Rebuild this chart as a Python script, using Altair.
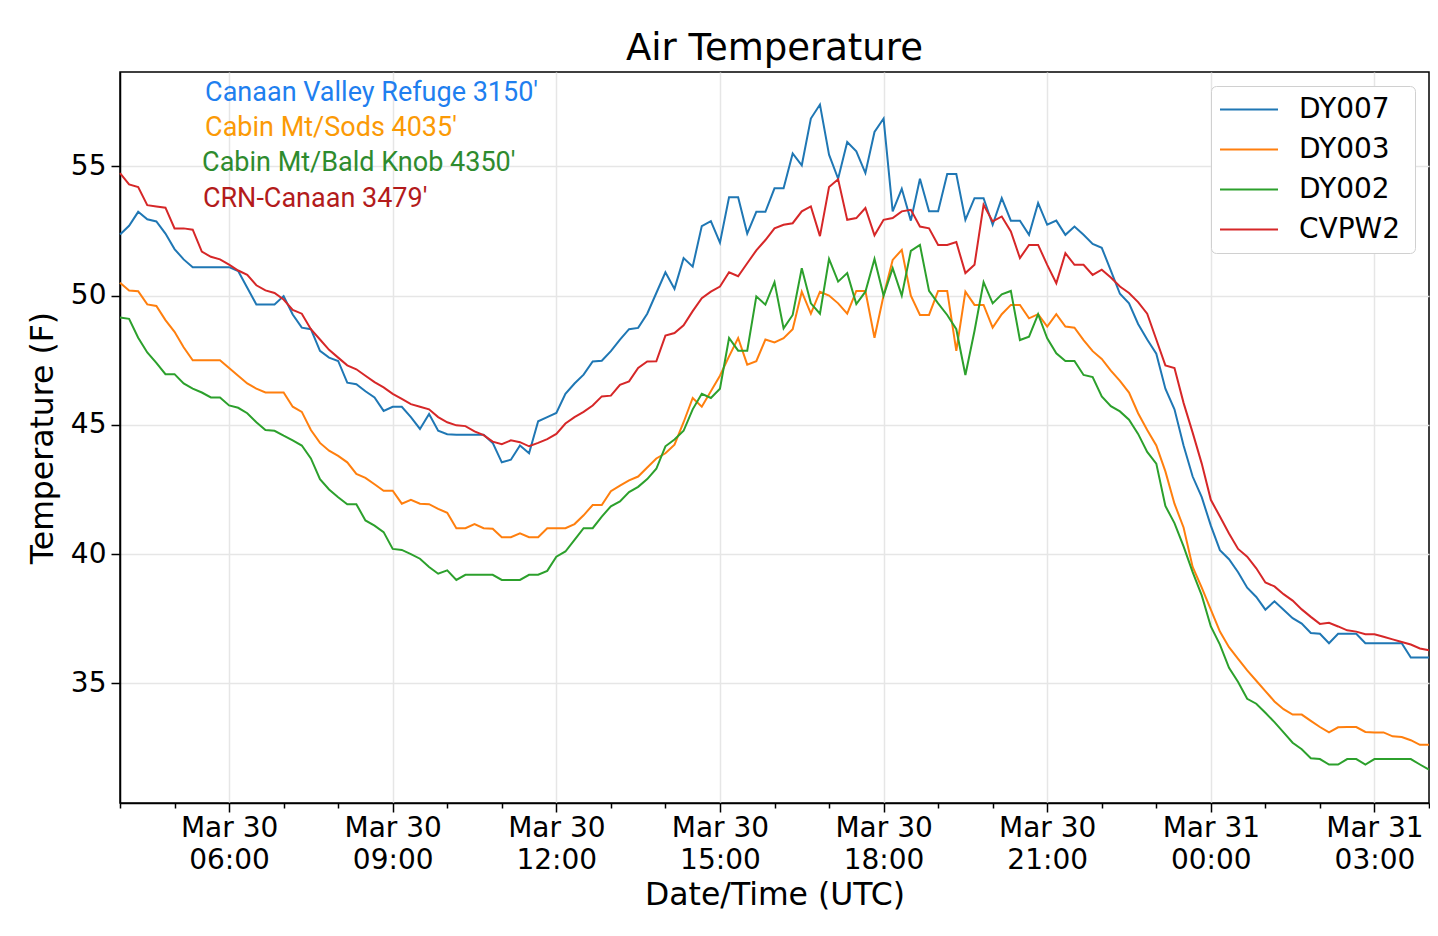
import altair as alt
import pandas as pd

# ---------------- data (10-minute readings, Mar 30 04:00 UTC -> Mar 31 04:00 UTC) ----------------
stations = ["DY007", "DY003", "DY002", "CVPW2"]
line_colors = ["#1f77b4", "#ff7f0e", "#2ca02c", "#d62728"]

dy007 = [52.36, 52.7, 53.24, 52.95, 52.87, 52.4, 51.8, 51.4, 51.1, 51.1,
         51.1, 51.1, 51.1, 50.95, 50.3, 49.66, 49.66, 49.66, 49.98, 49.27,
         48.76, 48.7, 47.86, 47.6, 47.47, 46.63, 46.57, 46.3, 46.06, 45.54,
         45.7, 45.7, 45.3, 44.84, 45.42, 44.77, 44.64, 44.62, 44.62, 44.62,
         44.62, 44.3, 43.55, 43.65, 44.2, 43.9, 45.14, 45.3, 45.46, 46.2,
         46.6, 46.94, 47.45, 47.48, 47.85, 48.3, 48.7, 48.75, 49.3, 50.1,
         50.9, 50.26, 51.45, 51.12, 52.69, 52.88, 52.05, 53.8, 53.8, 52.4,
         53.24, 53.24, 54.15, 54.15, 55.5, 55.04, 56.85, 57.39, 55.45, 54.52,
         55.94, 55.58, 54.74, 56.33, 56.85, 53.26, 54.13, 52.9, 54.52, 53.26,
         53.26, 54.7, 54.7, 52.93, 53.77, 53.77, 52.74, 53.77, 52.9, 52.9,
         52.35, 53.58, 52.74, 52.9, 52.35, 52.67, 52.35, 52.0, 51.85, 50.97,
         50.07, 49.7, 48.9, 48.3, 47.75, 46.4, 45.6, 44.2, 43.0, 42.2,
         41.1, 40.15, 39.8, 39.3, 38.7, 38.34, 37.85, 38.17, 37.85, 37.52,
         37.31, 36.95, 36.92, 36.55, 36.92, 36.92, 36.92, 36.55, 36.55, 36.55,
         36.55, 36.55, 36.0, 36.0, 36.0]

dy003 = [50.5, 50.2, 50.17, 49.66, 49.6, 49.05, 48.6, 48.0, 47.5, 47.5,
         47.5, 47.5, 47.2, 46.9, 46.6, 46.4, 46.25, 46.25, 46.25, 45.7,
         45.5, 44.8, 44.3, 44.0, 43.8, 43.55, 43.1, 42.95, 42.7, 42.45,
         42.45, 41.95, 42.1, 41.95, 41.93, 41.75, 41.6, 41.0, 41.0, 41.16,
         41.0, 40.98, 40.65, 40.65, 40.8, 40.65, 40.65, 41.0, 41.0, 41.0,
         41.16, 41.5, 41.9, 41.9, 42.43, 42.65, 42.85, 43.0, 43.35, 43.7,
         43.9, 44.23, 45.1, 46.04, 45.7, 46.3, 46.9, 47.65, 48.36, 47.33,
         47.46, 48.3, 48.19, 48.35, 48.7, 50.15, 49.3, 50.15, 50.0, 49.7,
         49.3, 50.18, 50.18, 48.37, 50.0, 51.38, 51.77, 50.0, 49.25, 49.25,
         50.18, 50.18, 47.86, 50.15, 49.64, 49.64, 48.76, 49.28, 49.64, 49.64,
         49.12, 49.28, 48.8, 49.28, 48.8, 48.76, 48.28, 47.85, 47.55, 47.1,
         46.7, 46.25, 45.45, 44.8, 44.2, 43.2, 41.95, 41.03, 39.5, 38.7,
         37.85, 37.0, 36.4, 35.95, 35.5, 35.1, 34.7, 34.3, 34.0, 33.79,
         33.79, 33.55, 33.31, 33.1, 33.3, 33.31, 33.31, 33.12, 33.1, 33.1,
         32.95, 32.92, 32.8, 32.62, 32.62]

dy002 = [49.15, 49.1, 48.37, 47.8, 47.4, 46.96, 46.96, 46.6, 46.4, 46.25,
         46.06, 46.06, 45.75, 45.66, 45.45, 45.1, 44.8, 44.77, 44.58, 44.4,
         44.2, 43.7, 42.9, 42.5, 42.2, 41.93, 41.93, 41.3, 41.1, 40.85,
         40.2, 40.16, 40.0, 39.82, 39.5, 39.24, 39.37, 39.0, 39.2, 39.2,
         39.2, 39.2, 39.0, 39.0, 39.0, 39.2, 39.2, 39.35, 39.9, 40.1,
         40.55, 41.0, 41.0, 41.45, 41.85, 42.04, 42.4, 42.6, 42.9, 43.3,
         44.17, 44.43, 44.77, 45.6, 46.2, 46.04, 46.4, 48.36, 47.87, 47.87,
         49.97, 49.65, 50.52, 48.73, 49.25, 51.06, 49.7, 49.3, 51.42, 50.54,
         50.87, 49.67, 50.15, 51.42, 50.0, 51.06, 50.0, 51.73, 51.96, 50.18,
         49.7, 49.25, 48.7, 46.93, 48.63, 50.52, 49.7, 50.05, 50.18, 48.28,
         48.41, 49.28, 48.35, 47.77, 47.47, 47.47, 46.93, 46.85, 46.1, 45.72,
         45.52, 45.2, 44.65, 43.95, 43.5, 41.86, 41.2, 40.3, 39.3, 38.4,
         37.2, 36.5, 35.6, 35.05, 34.4, 34.21, 33.86, 33.5, 33.1, 32.7,
         32.45, 32.1, 32.07, 31.86, 31.86, 32.07, 32.07, 31.86, 32.07, 32.07,
         32.07, 32.07, 32.07, 31.86, 31.66]

cvpw2 = [54.74, 54.3, 54.2, 53.5, 53.45, 53.4, 52.6, 52.6, 52.55, 51.7,
         51.5, 51.4, 51.2, 50.97, 50.8, 50.4, 50.2, 50.1, 49.85, 49.45,
         49.3, 48.7, 48.3, 47.9, 47.6, 47.3, 47.15, 46.9, 46.65, 46.45,
         46.2, 46.0, 45.8, 45.7, 45.6, 45.3, 45.1, 44.98, 44.95, 44.75,
         44.6, 44.35, 44.25, 44.4, 44.33, 44.17, 44.3, 44.45, 44.65, 45.05,
         45.3, 45.5, 45.75, 46.1, 46.13, 46.55, 46.68, 47.2, 47.45, 47.46,
         48.45, 48.55, 48.85, 49.4, 49.9, 50.15, 50.35, 50.9, 50.75, 51.25,
         51.75, 52.15, 52.6, 52.74, 52.8, 53.26, 53.45, 52.3, 54.2, 54.5,
         52.93, 53.0, 53.39, 52.33, 52.93, 53.0, 53.26, 53.32, 52.67, 52.6,
         51.96, 51.96, 52.07, 50.87, 51.19, 53.51, 52.87, 53.06, 52.48, 51.45,
         51.96, 51.96, 51.19, 50.48, 51.64, 51.19, 51.19, 50.8, 51.0, 50.7,
         50.35, 50.1, 49.75, 49.3, 48.3, 47.3, 47.2, 45.85, 44.7, 43.5,
         42.1, 41.45, 40.8, 40.2, 39.9, 39.45, 38.9, 38.75, 38.45, 38.2,
         37.86, 37.57, 37.3, 37.34, 37.2, 37.05, 37.0, 36.9, 36.9, 36.8,
         36.7, 36.6, 36.5, 36.35, 36.28]

series = [dy007, dy003, dy002, cvpw2]

# annotation text
ann_labels = ["Canaan Valley Refuge 3150'", "Cabin Mt/Sods 4035'",
              "Cabin Mt/Bald Knob 4350'", "CRN-Canaan 3479'"]
ann_colors = ["#1f7fef", "#fb9a06", "#2e8b2e", "#b31b1b"]
ann_hours = [1.56, 1.56, 1.505, 1.52]       # hours after 04:00 UTC
ann_temps = [57.82, 56.5, 55.12, 53.73]

y_ticks = [35, 40, 45, 50, 55]

# ---------------- build table ----------------
start = pd.Timestamp("2019-03-30 04:00", tz="UTC")
end = pd.Timestamp("2019-03-31 04:00", tz="UTC")
times = pd.date_range(start, periods=145, freq="10min")
time_str = list(times.strftime("%Y-%m-%dT%H:%M:%SZ"))

rows = []
for name, vals in zip(stations, series):
    for t, v in zip(time_str, vals):
        rows.append({"time": t, "temp": v, "station": name})
df = pd.DataFrame(rows)

def ms(ts):
    return int(ts.value // 10**6)

hour_ticks = [ms(t) for t in pd.date_range(start, end, freq="1h")]
x_domain = [ms(start), ms(end)]

major = "utchours(datum.value) % 3 == 0"

x_axis = alt.Axis(
    values=hour_ticks,
    labelExpr=f"{major} ? [utcFormat(datum.value, '%b %d'), utcFormat(datum.value, '%H:%M')] : ''",
    labelOverlap=False,
    labelFlush=False,
    labelLineHeight=32,
    labelFontSize=28,
    labelPadding=2,
    labelBaseline="top",
    tickSize={"condition": {"test": major, "value": 9}, "value": 5},
    gridOpacity={"condition": {"test": major, "value": 1}, "value": 0},
    title="Date/Time (UTC)",
    titleFontSize=31.5,
    titlePadding=5,
)

y_axis = alt.Axis(
    values=y_ticks,
    title="Temperature (F)",
    titleFontSize=31.5,
    titlePadding=11,
    labelFontSize=28,
    labelPadding=5,
    tickSize=9,
)

lines = alt.Chart(df).mark_line(strokeWidth=2).encode(
    x=alt.X("time:T", scale=alt.Scale(type="utc", domain=x_domain), axis=x_axis),
    y=alt.Y("temp:Q", scale=alt.Scale(domain=[30.37, 58.65], nice=False, zero=False), axis=y_axis),
    color=alt.Color(
        "station:N",
        scale=alt.Scale(domain=stations, range=line_colors),
        sort=stations,
        legend=alt.Legend(
            title="\u00a0",
            titleOrient="right",
            titleFontSize=2,
            titlePadding=10,
            orient="top-right",
            offset=14,
            symbolType="stroke",
            symbolSize=3364,
            symbolStrokeWidth=2,
            symbolOpacity=1,
            symbolOffset=3,
            labelFontSize=28,
            labelFont="DejaVu Sans",
            labelColor="black",
            labelOffset=20,
            padding=5,
            rowPadding=3,
            clipHeight=37,
            strokeColor="#d0d0d0",
            fillColor="white",
            cornerRadius=5,
        ),
    ),
)

texts = []
for lab, col, hr, tp in zip(ann_labels, ann_colors, ann_hours, ann_temps):
    tdf = pd.DataFrame({
        "time": [(start + pd.Timedelta(hours=hr)).strftime("%Y-%m-%dT%H:%M:%SZ")],
        "temp": [tp],
        "label": [lab],
    })
    texts.append(
        alt.Chart(tdf).mark_text(align="left", baseline="middle", font="Roboto",
                                 fontSize=27, color=col).encode(
            x="time:T", y="temp:Q", text="label:N")
    )

chart = alt.layer(lines, *texts).properties(
    width=1309,
    height=731,
    title=alt.TitleParams("Air Temperature", fontSize=37, font="DejaVu Sans",
                          fontWeight="normal", color="black", offset=4, anchor="middle"),
    autosize=alt.AutoSizeParams(type="none"),
    padding={"left": 112, "top": 64, "right": 1, "bottom": 120},
).configure_view(
    stroke="black", strokeWidth=1.5
).configure_axis(
    domainColor="black", domainWidth=1.5, tickColor="black", tickWidth=1.5,
    gridColor="#e6e6e6", gridWidth=1.5,
    labelFont="DejaVu Sans", titleFont="DejaVu Sans",
    labelColor="black", titleColor="black", titleFontWeight="normal",
)

chart.save("out.html", embed_options={"renderer": "svg", "actions": False})
